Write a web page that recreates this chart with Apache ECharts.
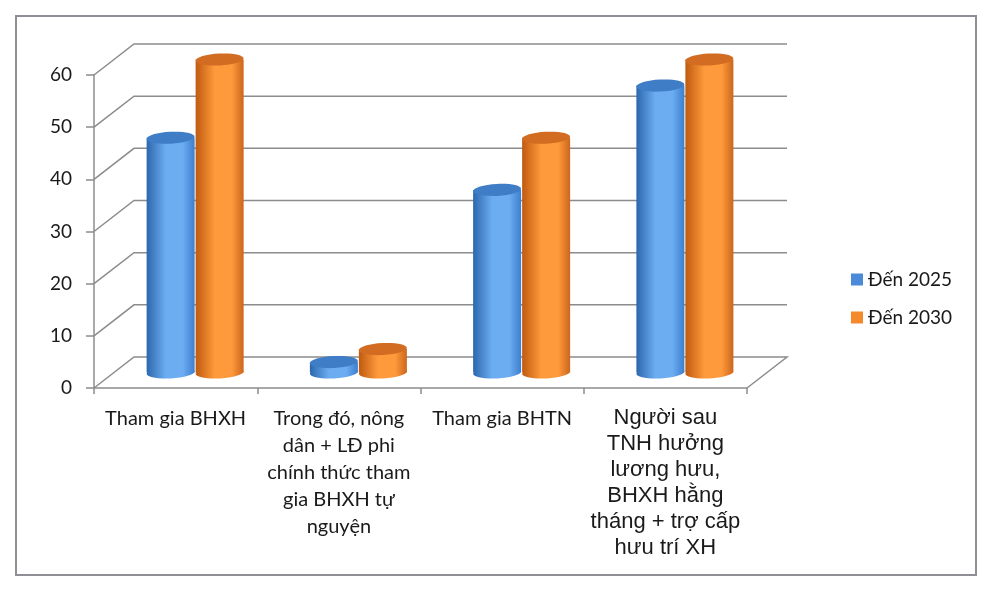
<!DOCTYPE html>
<html>
<head>
<meta charset="utf-8">
<script src="https://cdn.jsdelivr.net/npm/echarts@6/dist/echarts.min.js"></script>
<style>
    html, body { margin: 0; padding: 0; background: #fff; }
    #chart { width: 990px; height: 590px; }
</style>
</head>
<body>
<div id="chart"></div>
<script>
const categories = [
    'Tham gia BHXH',
    'Trong đó, nông\ndân + LĐ phi\nchính thức tham\ngia BHXH tự\nnguyện',
    'Tham gia BHTN',
    'Người sau\nTNH hưởng\nlương hưu,\nBHXH hằng\ntháng + trợ cấp\nhưu trí XH'
];
const seriesNames = ['Đến 2025', 'Đến 2030'];
const values2025 = [45, 2, 35, 55];
const values2030 = [60, 4.5, 45, 60];
const yTicks = [0, 10, 20, 30, 40, 50, 60];

// depth of the fake 3D box (front plane -> back wall)
const DX = 40, DY = 31;
const BAR_W = 48;
const RY = 6;

const palette = [
    {edge: '#2c67ad', light: '#6cadf2', right: '#3c7fcd', top: '#3f7ec7', legend: '#4a8ad8'},
    {edge: '#bf5a10', light: '#ff9a3c', right: '#cc661c', top: '#d26c22', legend: '#f58a2c'}
];

function wallItem(params, api) {
    const cs = params.coordSys;
    const y = api.coord([0, api.value(1)])[1];
    const x0 = cs.x, x1 = cs.x + cs.width;
    let pts = [[x0, y], [x0 + DX, y - DY], [x1 + DX, y - DY]];
    if (api.value(1) === 0) {
        pts.push([x1, y]);
    }
    return {
        type: 'polyline',
        shape: {points: pts},
        style: {stroke: '#8c8c8c', lineWidth: 1.5, fill: null}
    };
}

function cylinderItem(seriesIdx) {
    return function (params, api) {
        const c = palette[seriesIdx];
        const top = api.coord([api.value(0), api.value(1)]);
        const base = api.coord([api.value(0), 0]);
        const shift = seriesIdx === 0 ? -BAR_W / 2 - 1 : BAR_W / 2;
        const cx = top[0] + DX / 2 + shift;
        const topY = top[1] - DY / 2;
        const baseY = base[1] - DY / 2;
        const grad = new echarts.graphic.LinearGradient(0, 0, 1, 0, [
            {offset: 0, color: c.edge},
            {offset: 0.4, color: c.light},
            {offset: 0.75, color: c.light},
            {offset: 1, color: c.right}
        ]);
        return {
            type: 'group',
            children: [{
                type: 'ellipse',
                shape: {cx: cx, cy: baseY, rx: BAR_W / 2, ry: RY},
                rotation: 0.05, originX: cx, originY: baseY,
                style: {fill: grad}
            }, {
                type: 'rect',
                shape: {x: cx - BAR_W / 2, y: topY, width: BAR_W, height: baseY - topY},
                style: {fill: grad}
            }, {
                type: 'ellipse',
                shape: {cx: cx, cy: topY, rx: BAR_W / 2, ry: RY},
                rotation: 0.05, originX: cx, originY: topY,
                style: {fill: c.top}
            }]
        };
    };
}

var option = {
    backgroundColor: '#fff',
    animation: false,
    textStyle: {fontFamily: 'Lato'},
    graphic: [{
        type: 'rect',
        shape: {x: 16, y: 16, width: 960, height: 559},
        style: {fill: null, stroke: '#8e8e96', lineWidth: 2}
    }],
    legend: {
        orient: 'vertical',
        left: 846,
        top: 265,
        itemWidth: 12,
        itemHeight: 12,
        itemGap: 19,
        icon: 'rect',
        data: seriesNames,
        textStyle: {fontSize: 19, color: '#1a1a1a', fontFamily: 'Lato'}
    },
    grid: {
        left: 94,
        right: 243,
        top: 75,
        bottom: 202
    },
    xAxis: {
        type: 'category',
        data: categories,
        axisLine: {lineStyle: {color: '#8c8c8c', width: 1.5}},
        axisTick: {show: true, length: 6, lineStyle: {color: '#8c8c8c', width: 1.5}},
        splitLine: {show: false},
        axisLabel: {
            interval: 0,
            margin: 17,
            verticalAlign: 'top',
            formatter: function (value, idx) {
                return idx === 3 ? '{big|' + value + '}' : '{n|' + value + '}';
            },
            rich: {
                n: {fontSize: 20, lineHeight: 27, color: '#1a1a1a', fontFamily: 'Lato', align: 'center'},
                big: {fontSize: 22, lineHeight: 26, color: '#1a1a1a', fontFamily: 'Liberation Sans', align: 'center'}
            }
        }
    },
    yAxis: {
        type: 'value',
        min: 0,
        max: 60,
        interval: 10,
        axisLine: {show: true, lineStyle: {color: '#8c8c8c', width: 1.5}},
        axisTick: {show: true, length: 8, lineStyle: {color: '#8c8c8c', width: 1.5}},
        splitLine: {show: false},
        axisLabel: {fontSize: 19, color: '#1a1a1a', margin: 22, fontFamily: 'Lato'}
    },
    series: [{
        name: 'wall',
        type: 'custom',
        z: 1,
        silent: true,
        renderItem: wallItem,
        data: yTicks.map(function (v) { return [0, v]; })
    }, {
        name: seriesNames[0],
        type: 'custom',
        z: 3,
        renderItem: cylinderItem(0),
        itemStyle: {color: palette[0].legend},
        data: values2025.map(function (v, i) { return [i, v]; })
    }, {
        name: seriesNames[1],
        type: 'custom',
        z: 3,
        renderItem: cylinderItem(1),
        itemStyle: {color: palette[1].legend},
        data: values2030.map(function (v, i) { return [i, v]; })
    }]
};

var chart = echarts.init(document.getElementById('chart'));
chart.setOption(option);
</script>
</body>
</html>
